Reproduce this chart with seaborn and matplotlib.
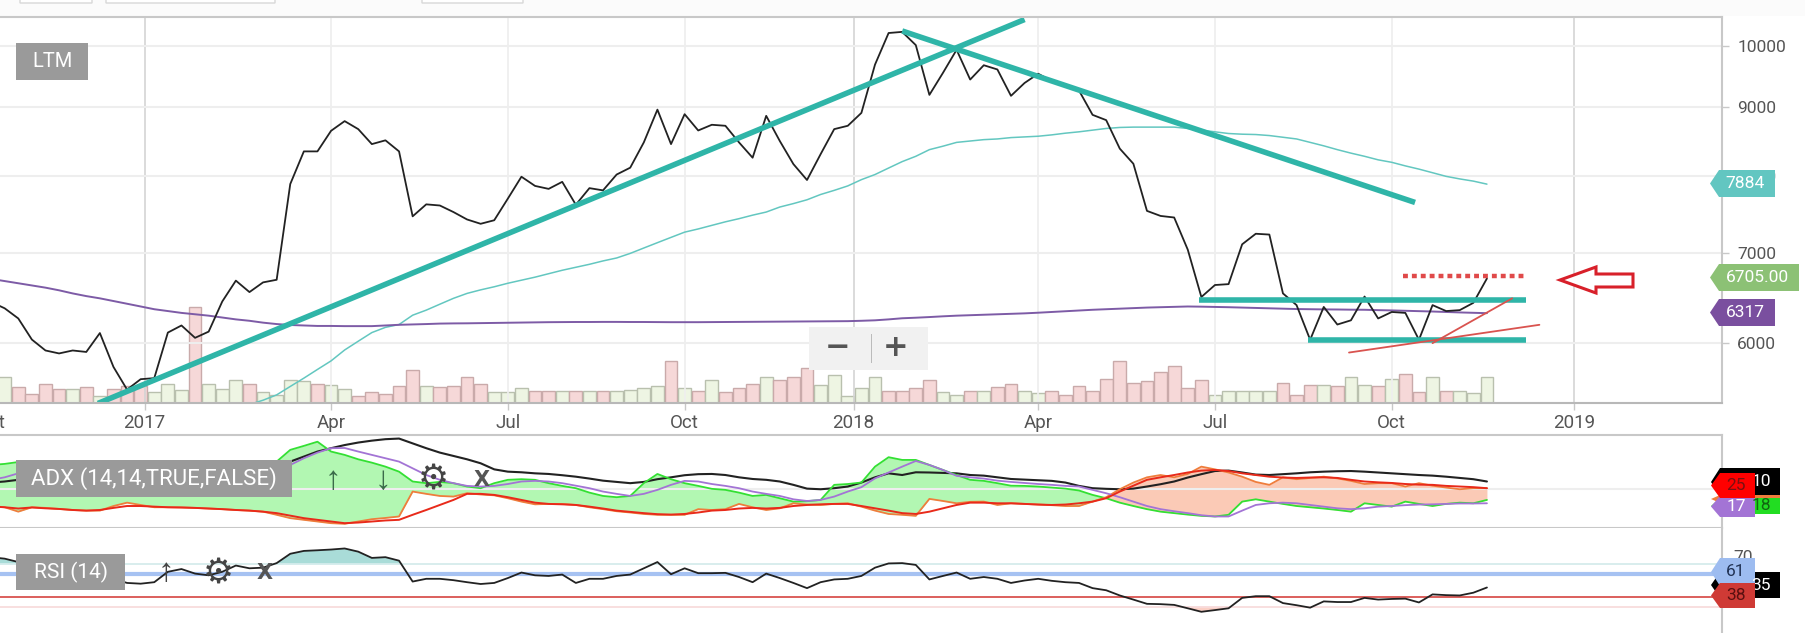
import numpy as np
import pandas as pd
import matplotlib
matplotlib.use('Agg')
import matplotlib.pyplot as plt
from matplotlib.patches import Polygon, Rectangle, FancyBboxPatch
from matplotlib.ticker import NullFormatter
import seaborn as sns

W, H = 1805, 633

# weekly closes, LTM
dates = pd.date_range('2016-10-14', '2018-11-23', freq='W-FRI')

price = [6440,6370,6260,6037,5925,5895,5925,5910,6105,5760,5540,5640,5650,6110,6185,6055,6120,6445,6680,6550,6660,
         6690,7885,8340,8340,8640,8785,8665,8445,8500,8340,7460,7615,7600,7515,7420,7365,7410,7690,7985,7860,
         7820,7915,7610,7830,7800,8015,8110,8470,8960,8445,8890,8645,8730,8715,8470,8250,8865,8490,8160,7940,
         8300,8665,8715,8910,9680,10220,10240,10010,9190,9545,9930,9435,9670,9600,9175,9380,9530,9410,9355,9260,
         8880,8800,8380,8165,7530,7465,7445,7045,6495,6630,6640,7110,7240,7230,6535,6405,6035,6385,6195,6240,
         6500,6260,6330,6320,6035,6405,6340,6350,6430,6705]

ma_short_start = 19
ma_short = [5400,5440,5490,5570,5650,5735,5820,5930,6020,6110,6165,6195,6295,6350,6415,6480,6535,6575,6610,6650,
            6685,6720,6760,6800,6835,6870,6910,6945,7000,7065,7130,7195,7260,7300,7345,7390,7430,7475,7515,7580,
            7625,7675,7745,7800,7860,7945,8015,8105,8195,8270,8365,8415,8470,8490,8510,8520,8540,8550,8560,8580,
            8605,8625,8650,8675,8690,8695,8695,8695,8695,8675,8650,8625,8600,8590,8585,8570,8545,8520,8470,8420,
            8365,8315,8270,8220,8185,8135,8090,8040,7990,7955,7925,7884]

ma_long = [6700,6675,6650,6625,6600,6570,6535,6505,6480,6450,6420,6390,6360,6340,6320,6305,6290,6270,6250,6235,6215,
           6200,6190,6185,6180,6180,6178,6178,6178,6185,6192,6196,6200,6205,6207,6208,6210,6212,6214,6216,6218,
           6220,6221,6222,6222,6223,6223,6222,6222,6221,6220,6220,6220,6221,6222,6223,6224,6225,6226,6227,6228,
           6229,6230,6231,6235,6240,6250,6262,6268,6275,6283,6290,6295,6300,6305,6310,6315,6322,6330,6338,6346,
           6354,6360,6366,6372,6378,6382,6386,6390,6388,6385,6382,6378,6374,6370,6366,6362,6360,6358,6357,6355,
           6354,6350,6347,6343,6339,6335,6330,6325,6321,6317]

volume = [50,77,48,27,58,42,42,48,22,42,52,52,32,58,38,287,58,42,70,58,32,25,
          70,65,58,53,42,20,32,28,50,98,50,48,52,78,58,32,32,44,35,35,35,35,35,35,35,38,45,50,125,45,35,70,32,45,58,78,68,78,105,53,84,22,45,78,35,
          35,45,70,32,25,35,35,48,58,35,30,35,25,52,35,72,125,60,65,92,112,45,68,25,35,35,35,35,60,25,55,55,50,78,55,50,72,88,32,78,35,35,30,78]
volume_dir = ('GGPPPPGPGPPPGGGPGGGPGG'
              'GGPGGPPPPPGPPPPGGGPPGPGPGGGGPGPGPPPGPPPGGGGGP'
              'PPPGGPGPPGGPPPPPPPPPPPPGGGGGPPPGPGGPGPPGPGGG')

adx = [28.2,28.7,29.5,30.2,30.7,31.0,31.4,31.7,31.8,32.0,32.3,32.6,33.0,33.3,33.6,33.9,34.2,34.5,34.9,35.0,35.3,
       36.1,38.2,40.6,43.0,44.6,46.1,47.3,48.2,48.9,49.2,46.9,44.6,42.5,40.9,39.3,37.4,34.5,33.4,33.1,32.6,
       32.3,31.7,31.0,30.1,29.1,28.5,27.9,28.5,29.8,30.7,31.7,32.2,32.3,31.8,30.7,29.9,29.5,28.7,27.1,25.3,
       25.0,25.5,26.3,28.2,30.7,32.6,31.8,33.1,33.0,32.8,32.6,31.8,31.5,30.7,29.9,29.6,29.3,29.0,28.2,26.6,
       25.5,25.2,25.0,25.3,26.3,27.4,28.7,30.6,32.2,33.7,33.9,33.0,32.0,31.8,32.2,32.6,33.1,33.4,33.6,33.7,
       33.4,33.0,32.6,32.2,31.8,31.5,31.0,30.4,29.8,28.7]

di_plus = [36.6,37.1,38.0,38.0,37.4,36.6,35.8,35.8,35.5,35.0,35.0,35.0,35.5,35.8,35.5,35.0,35.8,35.8,35.8,35.8,36.6,
           38.2,43.8,45.7,47.7,43.0,41.4,39.3,37.7,35.8,33.4,28.7,27.9,28.5,27.9,26.3,25.5,27.9,29.5,29.8,29.5,
           27.9,26.6,25.5,23.4,21.8,21.2,21.8,27.9,32.3,29.8,27.9,26.6,25.2,24.7,23.4,21.8,22.3,20.7,19.1,19.3,
           19.9,27.1,27.5,28.2,35.8,40.3,39.0,39.0,36.6,34.2,31.8,29.5,29.0,27.9,26.7,26.6,26.3,25.8,25.3,24.4,
           22.3,20.7,18.6,17.0,15.5,14.3,13.6,12.9,12.3,12.0,12.8,19.1,20.2,19.1,18.0,17.0,16.4,15.8,15.1,14.3,
           18.3,17.5,16.7,19.1,18.0,17.0,18.0,18.6,18.3,19.9]

di_minus = [17.0,16.4,14.3,16.4,16.1,15.6,15.1,14.8,14.8,17.0,18.6,17.5,16.4,16.4,16.3,16.1,15.8,15.5,15.1,14.8,14.3,
            12.8,11.2,10.4,9.6,8.8,8.5,9.6,10.7,11.3,12.0,23.9,22.8,21.8,21.5,23.1,22.5,22.1,20.7,19.1,17.8,
            18.0,18.0,17.5,16.4,15.5,14.5,13.9,13.2,12.8,12.8,12.8,15.5,15.1,15.5,18.0,16.4,15.1,15.9,18.3,17.7,
            17.5,18.0,18.3,16.7,14.8,13.2,12.8,12.3,20.4,19.4,18.3,19.0,19.1,17.5,18.3,18.0,17.7,17.4,17.0,17.0,
            19.1,21.2,25.0,28.2,30.7,31.8,30.7,32.3,35.8,34.5,33.0,31.0,28.5,27.1,30.7,29.8,30.4,31.0,30.2,29.0,
            27.5,27.9,27.9,26.3,27.9,26.7,25.8,25.0,25.5,25.5]

di_minus_avg = [16.8,16.4,15.8,16.3,15.9,15.6,15.1,14.8,15.1,16.1,17.0,17.0,16.7,16.4,16.3,16.1,15.8,15.5,15.1,14.8,14.3,
                13.6,12.4,11.2,10.4,9.6,8.8,9.1,9.6,10.1,10.4,12.8,15.1,17.5,19.9,22.8,22.8,22.3,21.2,19.9,18.6,
                18.0,17.8,17.5,16.7,15.8,14.8,14.2,13.6,13.1,12.9,13.2,13.9,14.8,15.1,15.8,16.1,15.8,16.1,17.0,17.5,
                17.8,18.0,18.0,17.0,15.9,14.8,13.6,13.2,14.3,15.9,17.5,18.6,18.6,18.3,18.3,18.0,17.7,17.5,17.7,18.3,
                19.1,20.7,23.9,26.7,29.5,30.7,31.8,33.0,33.9,34.2,33.7,32.6,31.8,31.0,30.6,30.4,30.6,30.7,30.4,29.5,
                28.7,28.3,28.0,27.5,27.2,27.1,26.6,26.3,26.0,25.5]

di_plus_avg = [29.5,30.7,32.6,34.2,34.5,34.5,34.9,35.0,35.0,35.0,35.0,35.0,35.0,35.0,35.0,35.0,35.0,35.0,35.0,35.0,35.0,
               35.0,36.6,39.8,42.5,44.6,44.7,43.0,41.4,39.8,38.2,35.0,31.8,29.5,27.9,26.6,26.3,26.6,27.5,28.7,29.0,
               28.7,27.9,26.7,25.5,23.9,22.8,21.8,22.8,24.7,27.1,29.0,28.7,27.5,26.6,25.5,23.9,22.8,21.8,20.2,19.4,
               19.9,21.5,23.9,26.0,30.2,33.0,35.8,38.5,36.6,34.2,31.4,30.7,30.1,29.1,28.5,28.0,27.5,27.1,26.6,26.3,
               24.7,23.1,21.2,19.1,17.0,15.5,14.5,13.6,12.6,12.0,12.0,14.8,17.5,18.3,18.6,18.3,17.5,16.7,15.9,15.5,
               15.9,16.7,17.0,17.4,17.7,17.8,18.0,18.2,18.2,18.3]

rsi = [76.5,75.2,72.0,69.3,64.4,61.1,57.9,56.2,64.4,56.2,52.3,51.6,53.0,62.8,65.4,61.1,59.5,62.8,68.7,66.1,66.7,
       71.0,79.8,82.5,83.1,83.8,84.8,81.8,75.9,76.6,73.3,53.6,56.2,56.2,54.9,53.0,51.3,52.3,56.9,62.1,59.5,
       58.9,60.2,52.3,56.2,56.2,58.9,60.2,66.1,72.0,60.5,66.1,61.5,61.5,61.8,57.9,53.0,61.1,56.9,52.3,47.4,
       53.0,55.6,56.2,58.9,66.7,70.7,71.0,69.3,55.6,58.9,62.1,56.2,57.9,56.2,52.3,54.6,56.2,54.3,53.0,52.3,
       47.4,45.4,40.5,36.6,32.6,32.3,31.6,28.4,25.1,26.7,28.4,38.2,39.8,39.8,33.3,31.3,29.0,34.9,34.3,34.3,
       38.2,36.6,37.2,37.5,33.9,41.5,40.8,40.5,43.1,48.0]

# hand drawn lines on the chart: (start date, start value, end date, end value)
teal_lines = [('2016-12-08', 5410, '2018-03-30', 10460),
              ('2018-01-26', 10256, '2018-10-17', 7640),
              ('2018-06-28', 6465, '2018-12-13', 6465),
              ('2018-08-23', 6032, '2018-12-13', 6032)]
red_lines = [('2018-09-13', 5904, '2018-12-20', 6192),
             ('2018-10-26', 6000, '2018-12-06', 6480)]
red_dotted = ('2018-10-11', 6733, '2018-12-13', 6733)

price_ticks = [6000, 7000, 8000, 9000, 10000]
x_tick_dates = ['2016-10-14', '2017-01-01', '2017-04-07', '2017-07-07', '2017-10-06',
                '2018-01-01', '2018-04-06', '2018-07-06', '2018-10-05', '2019-01-07']
x_tick_labels = ['Oct', '2017', 'Apr', 'Jul', 'Oct', '2018', 'Apr', 'Jul', 'Oct', '2019']

sns.set_theme(style='white')
plt.rcParams['font.family'] = ['Roboto', 'DejaVu Sans']

GRID = '#eeeeee'
BORDER = '#c8c8c8'
TEAL = '#2fb5a8'
xlim = (pd.Timestamp('2016-09-28'), pd.Timestamp('2019-03-24'))


def panel(top, bottom):
    # axes placed in image pixels, left edge hangs off the figure
    return fig.add_axes([-40 / W, 1 - bottom / H, 1762 / W, (bottom - top) / H])


def tag(x0, x1, y0, y1, color, text, tcolor='white', z=5, dx=3):
    ym = (y0 + y1) / 2
    pts = [(x0, ym), (x0 + 9, y0), (x1, y0), (x1, y1), (x0 + 9, y1)]
    fig.add_artist(Polygon([(a / W, 1 - b / H) for a, b in pts], closed=True, fc=color, ec='none',
                           transform=fig.transFigure, zorder=z))
    fig.text(((x0 + x1) / 2 + dx) / W, 1 - ym / H, text, color=tcolor, fontsize=12.5, ha='center',
             va='center', zorder=z + 0.5)


def box(x0, x1, y0, y1, color, text=None, size=15):
    fig.add_artist(Rectangle((x0 / W, 1 - y1 / H), (x1 - x0) / W, (y1 - y0) / H, fc=color, ec='none',
                             transform=fig.transFigure, zorder=4))
    if text:
        fig.text((x0 + x1) / 2 / W, 1 - (y0 + y1) / 2 / H, text, color='white', fontsize=size,
                 ha='center', va='center', zorder=4.5)


def icon(x, y, text, color='#555555', size=16, weight='normal', family='DejaVu Sans'):
    fig.text(x / W, 1 - y / H, text, color=color, fontsize=size, fontweight=weight, ha='center',
             va='center', zorder=4.5, family=[family])


fig = plt.figure(figsize=(W / 100, H / 100), dpi=100)

# price panel
ax = panel(17, 403)
vol_ax = ax.twinx()
vol_colors = ['#f6d8d8' if d == 'P' else '#eef5e3' for d in volume_dir]
vol_edges = ['#c9aaaa' if d == 'P' else '#b9c0ae' for d in volume_dir]
vol_ax.bar(dates, volume, width=6.6, color=vol_colors, edgecolor=vol_edges, linewidth=1)
vol_ax.set_ylim(0, 1158)
vol_ax.axis('off')
ax.set_zorder(vol_ax.get_zorder() + 1)
ax.patch.set_visible(False)

ax.set_yscale('log')
sns.lineplot(x=dates[ma_short_start:], y=ma_short, ax=ax, color='#63c7c0', linewidth=1.1, legend=False)
sns.lineplot(x=dates, y=ma_long, ax=ax, color='#7d5ba6', linewidth=1.4, legend=False)
sns.lineplot(x=dates, y=price, ax=ax, color='#222222', linewidth=1.3, legend=False)
for d0, v0, d1, v1 in teal_lines:
    ax.plot([pd.Timestamp(d0), pd.Timestamp(d1)], [v0, v1], color=TEAL, lw=4, solid_capstyle='butt')
for d0, v0, d1, v1 in red_lines:
    ax.plot([pd.Timestamp(d0), pd.Timestamp(d1)], [v0, v1], color='#d9534f', lw=1.3)
ax.plot([pd.Timestamp(red_dotted[0]), pd.Timestamp(red_dotted[2])], [red_dotted[1], red_dotted[3]],
        color='#e04a4a', lw=3.2, linestyle=(0, (1.1, 0.9)))

ax.set_xlim(*xlim)
vol_ax.set_xlim(*xlim)
ax.set_ylim(5414, 10505)
ax.set_yticks(price_ticks)
ax.set_yticklabels([str(v) for v in price_ticks], fontsize=12.5, color='#555555')
ax.yaxis.set_minor_formatter(NullFormatter())
ax.yaxis.set_minor_locator(matplotlib.ticker.NullLocator())
ax.yaxis.tick_right()
ax.set_xticks([pd.Timestamp(d) for d in x_tick_dates])
ax.set_xticklabels(x_tick_labels, fontsize=13.5, color='#555555')
ax.tick_params(axis='x', length=5, width=1, color=BORDER, pad=3, bottom=True)
ax.tick_params(axis='y', length=5, width=1, color=BORDER, pad=6, right=True, left=False)
ax.set_xlabel('')
ax.set_ylabel('')
ax.grid(axis='y', color=GRID, lw=1.5)
ax.grid(axis='x', color=GRID, lw=1.2)
for g, lab in zip(ax.get_xgridlines(), x_tick_labels):
    if lab in ('2017', '2018', '2019'):
        g.set_color('#d4d4d4')
ax.set_axisbelow(True)

# ADX panel
ax2 = panel(435, 528)
d = np.array(dates.to_pydatetime())
ax2.axhline(25, color=GRID, lw=1.5)
ax2.fill_between(d, di_plus, di_minus, where=np.array(di_plus) >= np.array(di_minus), interpolate=True,
                 color='#b2f7b2', lw=0)
ax2.fill_between(d, di_plus, di_minus, where=np.array(di_plus) <= np.array(di_minus), interpolate=True,
                 color='#fbcab6', lw=0)
sns.lineplot(x=dates, y=adx, ax=ax2, color='#222222', linewidth=1.5, legend=False)
sns.lineplot(x=dates, y=di_plus, ax=ax2, color='#33e033', linewidth=1.3, legend=False)
sns.lineplot(x=dates, y=di_minus, ax=ax2, color='#ef7d3c', linewidth=1.3, legend=False)
sns.lineplot(x=dates, y=di_plus_avg, ax=ax2, color='#a374d5', linewidth=1.3, legend=False)
sns.lineplot(x=dates, y=di_minus_avg, ax=ax2, color='#e82a1a', linewidth=1.4, legend=False)
ax2.set_xlim(*xlim)
ax2.set_ylim(6.5, 50.9)

# RSI panel
ax3 = panel(528, 640)
rsi_arr = np.array(rsi)
ax3.axhline(70, color='#d5ecec', lw=1.3)
ax3.axhline(30, color='#f8dcdc', lw=1.3)
ax3.axhline(61, color='#a6c2f2', lw=3)
ax3.axhline(39, color='#d9534f', lw=1.3)
ax3.fill_between(d, rsi_arr, 70, where=rsi_arr >= 70, interpolate=True, color='#a9dcd8', lw=0)
ax3.fill_between(d, rsi_arr, 30, where=rsi_arr <= 30, interpolate=True, color='#fbd0c6', lw=0)
sns.lineplot(x=dates, y=rsi, ax=ax3, color='#222222', linewidth=1.3, legend=False)
ax3.set_xlim(*xlim)
ax3.set_ylim(-1.5, 104.1)

for a in (ax2, ax3):
    a.set_xticks([])
    a.set_yticks([])
    a.set_xlabel('')
    a.set_ylabel('')
for a in (ax, ax2, ax3):
    for name, spine in a.spines.items():
        spine.set_visible(name in ('top', 'bottom', 'right'))
        spine.set_color(BORDER)
        spine.set_linewidth(1.5)
ax.spines['bottom'].set_color('#b8b8b8')
ax3.spines['top'].set_visible(False)

# strip of page above the chart
fig.add_artist(Rectangle((0, 1 - 16 / H), 1, 16 / H, fc='#fbfbfb', ec='none', transform=fig.transFigure, zorder=1))
for x0, x1 in [(20, 92), (106, 275), (422, 523)]:
    fig.add_artist(FancyBboxPatch((x0 / W, 1 - 3 / H), (x1 - x0) / W, 6 / H, boxstyle='round,pad=0', fc='white',
                                  ec='#d8d8d8', lw=1, transform=fig.transFigure, zorder=2))

# study labels
box(16, 88, 43, 80, '#9a9a9a', 'LTM', 14.5)
box(16, 292, 460, 497, '#9a9a9a', 'ADX (14,14,TRUE,FALSE)', 16)
box(16, 125, 554, 590, '#9a9a9a', 'RSI (14)', 15)
icon(333, 480, '\u2191', '#3b6b4a', 24, family='Liberation Sans')
icon(383, 480, '\u2193', '#3b6b4a', 24, family='Liberation Sans')
icon(433, 480, '\u2699', '#444444', 25)
icon(482, 480, 'X', '#555555', 15, 'bold')
icon(166, 573, '\u2191', '#444444', 24, family='Liberation Sans')
icon(218, 573, '\u2699', '#444444', 25)
icon(265, 573, 'X', '#555555', 15, 'bold')

# zoom buttons
fig.add_artist(FancyBboxPatch((809 / W, 1 - 370 / H), 119 / W, 43 / H, boxstyle='round,pad=0', fc='#f1f1f1',
                              ec='none', transform=fig.transFigure, zorder=4))
fig.add_artist(Rectangle((871 / W, 1 - 363 / H), 1 / W, 29 / H, fc='#bbbbbb', ec='none',
                         transform=fig.transFigure, zorder=4.2))
icon(838, 348, '\u2212', '#555555', 22, 'bold')
icon(896, 348, '+', '#555555', 22, 'bold')

# red outline arrow
arrow = [(1560, 280), (1596, 267), (1596, 274), (1633, 274), (1633, 287), (1596, 287), (1596, 293)]
fig.add_artist(Polygon([(a / W, 1 - b / H) for a, b in arrow], closed=True, fc='white', ec='#d8202a', lw=2.2,
                       transform=fig.transFigure, zorder=4))

# value tags on the right
tag(1710, 1775, 170, 197, '#62c6c1', '7884')
tag(1710, 1799, 264, 291, '#8cc175', '6705.00')
tag(1710, 1775, 299, 326, '#7a4f9f', '6317')
tag(1711, 1780, 468, 496, '#000000', '10', dx=16, z=5)
tag(1711, 1780, 495, 503, '#ef7d3c', '', z=5.2)
tag(1711, 1780, 498, 514, '#22dd22', '18', tcolor='#116611', dx=16, z=5.4)
tag(1711, 1755, 496, 517, '#a374d5', '17', z=5.6)
tag(1711, 1755, 473, 498, '#ff0000', '25', tcolor='#7a1010', z=5.8)
fig.text(1733 / W, 1 - 557 / H, '70', fontsize=12.5, color='#555555', va='center', zorder=4)
fig.text(1733 / W, 1 - 604 / H, '30', fontsize=12.5, color='#555555', va='center', zorder=4)
tag(1711, 1780, 572, 598, '#000000', '35', dx=16, z=5)
tag(1711, 1755, 558, 586, '#9dbcf0', '61', tcolor='#223355', z=5.4)
tag(1711, 1755, 583, 608, '#cf3a35', '38', tcolor='#5a1010', z=5.8)

fig.savefig('out.png', dpi=100, facecolor='white')
